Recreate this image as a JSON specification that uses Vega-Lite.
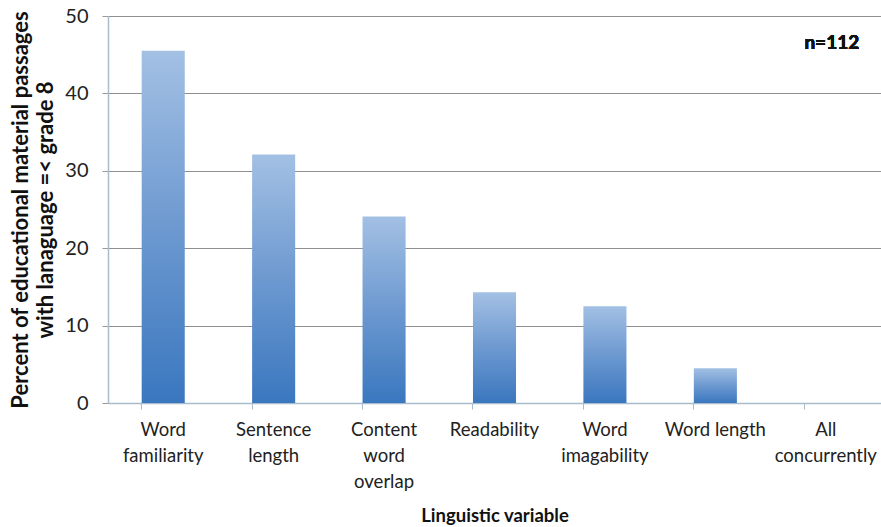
{
  "$schema": "https://vega.github.io/schema/vega-lite/v6.json",
  "width": 773,
  "height": 387,
  "autosize": "none",
  "padding": {"left": 108, "top": 16, "right": 0, "bottom": 124},
  "background": "white",
  "config": {
    "font": "Lato",
    "view": {"stroke": null}
  },
  "data": {
    "values": [
      {"variable": "Word familiarity", "percent": 45.5},
      {"variable": "Sentence length", "percent": 32.1},
      {"variable": "Content word overlap", "percent": 24.1},
      {"variable": "Readability", "percent": 14.3},
      {"variable": "Word imagability", "percent": 12.5},
      {"variable": "Word length", "percent": 4.5},
      {"variable": "All concurrently", "percent": 0}
    ]
  },
  "encoding": {
    "x": {
      "field": "variable",
      "type": "nominal",
      "sort": null,
      "scale": {"paddingInner": 0.61, "paddingOuter": 0.305},
      "axis": {
        "title": "Linguistic variable",
        "titleFont": "Lato",
        "titleFontSize": 18.5,
        "titleFontWeight": "bold",
        "titleColor": "#111111",
        "titlePadding": 16,
        "labelAngle": 0,
        "labelFontSize": 18.5,
        "labelColor": "#222222",
        "labelLineHeight": 26,
        "labelPadding": 11,
        "labelExpr": "datum.value == 'Word length' ? datum.value : split(datum.value, ' ')",
        "bandPosition": 0,
        "ticks": true,
        "tickSize": 6,
        "tickColor": "#a9bccc",
        "domainColor": "#a9bccc",
        "domainWidth": 1.5,
        "grid": false
      }
    },
    "y": {
      "field": "percent",
      "type": "quantitative",
      "scale": {"domain": [0, 50]},
      "axis": {
        "title": ["Percent of educational  material passages", "with lanaguage  =< grade 8"],
        "titleFontSize": 22,
        "titleFontWeight": "bold",
        "titleColor": "#111111",
        "titleLineHeight": 25,
        "titlePadding": 7,
        "values": [0, 10, 20, 30, 40, 50],
        "labelFontSize": 20,
        "labelColor": "#222222",
        "labelPadding": 14,
        "tickSize": 6,
        "tickColor": "#999999",
        "domainColor": "#a9bccc",
        "domainWidth": 1.5,
        "grid": true,
        "gridColor": "#8f8f8f",
        "gridWidth": 1.2
      }
    }
  },
  "layer": [
    {
      "mark": {
        "type": "bar",
        "color": {
          "gradient": "linear",
          "x1": 0, "y1": 0, "x2": 0, "y2": 1,
          "stops": [
            {"offset": 0, "color": "#a3c0e4"},
            {"offset": 0.5, "color": "#6d99d0"},
            {"offset": 1, "color": "#3a77bf"}
          ]
        }
      }
    },
    {
      "mark": {"type": "text", "fontSize": 19, "fontWeight": "bold", "color": "#111111", "font": "Lato", "dx": 6},
      "encoding": {
        "x": {"datum": "All concurrently"},
        "y": {"datum": 46.5},
        "text": {"value": "n=112"}
      }
    }
  ]
}
